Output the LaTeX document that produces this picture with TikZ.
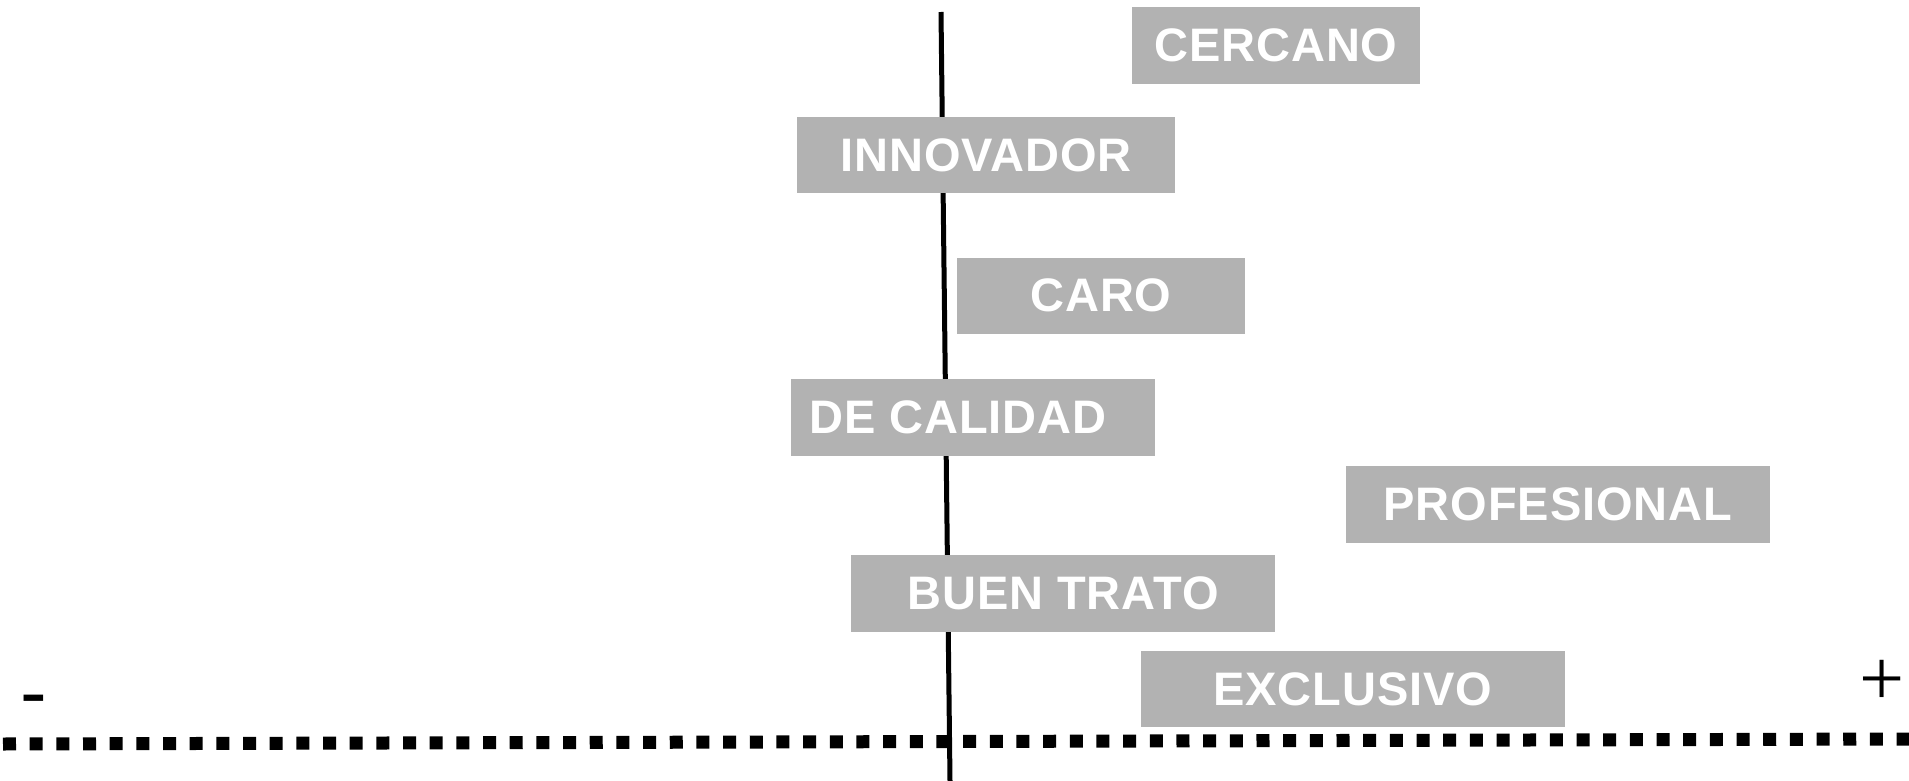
\documentclass[tikz,border=0pt]{standalone}
\usepackage{fontspec}
\setmainfont{Liberation Sans}
\newfontfamily\serifsign{Liberation Serif}
\definecolor{boxgray}{RGB}{178,178,178}
\tikzset{
  tag/.style={fill=boxgray, draw=none, inner sep=0pt, text=white,
    font=\fontsize{47}{50}\selectfont\bfseries\addfontfeatures{LetterSpace=2},
    minimum height=76.6pt},
  axisline/.style={line width=5pt, black},
  dotline/.style={line width=13pt, black, dash pattern=on 13pt off 13.67pt},
}
\begin{document}
\begin{tikzpicture}[x=1pt, y=-1pt]
\useasboundingbox (0,0) rectangle (1909,781);
\coordinate (vtop) at (941,12);
\coordinate (vbot) at (950,781);
\coordinate (hl) at (3,744);
\coordinate (hr) at (1909,739);
\draw[axisline] (vtop) -- (vbot);
\draw[dotline] (hl) -- (hr);
\node[tag, minimum width=288pt] (cercano) at (1276,45.3) {CERCANO};
\node[tag, minimum width=378pt] (innovador) at (986,155) {INNOVADOR};
\node[tag, minimum width=288pt] (caro) at (1101,295.8) {CARO};
\node[tag, minimum width=364pt] (calidad) at (973,417.3) {DE CALIDAD\hspace*{30pt}};
\node[tag, minimum width=424pt] (profesional) at (1558,504.3) {PROFESIONAL};
\node[tag, minimum width=424pt] (buentrato) at (1063,593.3) {BUEN TRATO};
\node[tag, minimum width=424pt] (exclusivo) at (1353,689) {EXCLUSIVO};
\node[anchor=base, inner sep=0pt, font=\fontsize{80}{80}\selectfont] (minus) at (33.5,719) {-};
\node[anchor=base, inner sep=0pt, font=\serifsign\fontsize{80}{80}\selectfont] (plus) at (1882,705.5) {+};
\end{tikzpicture}
\end{document}
